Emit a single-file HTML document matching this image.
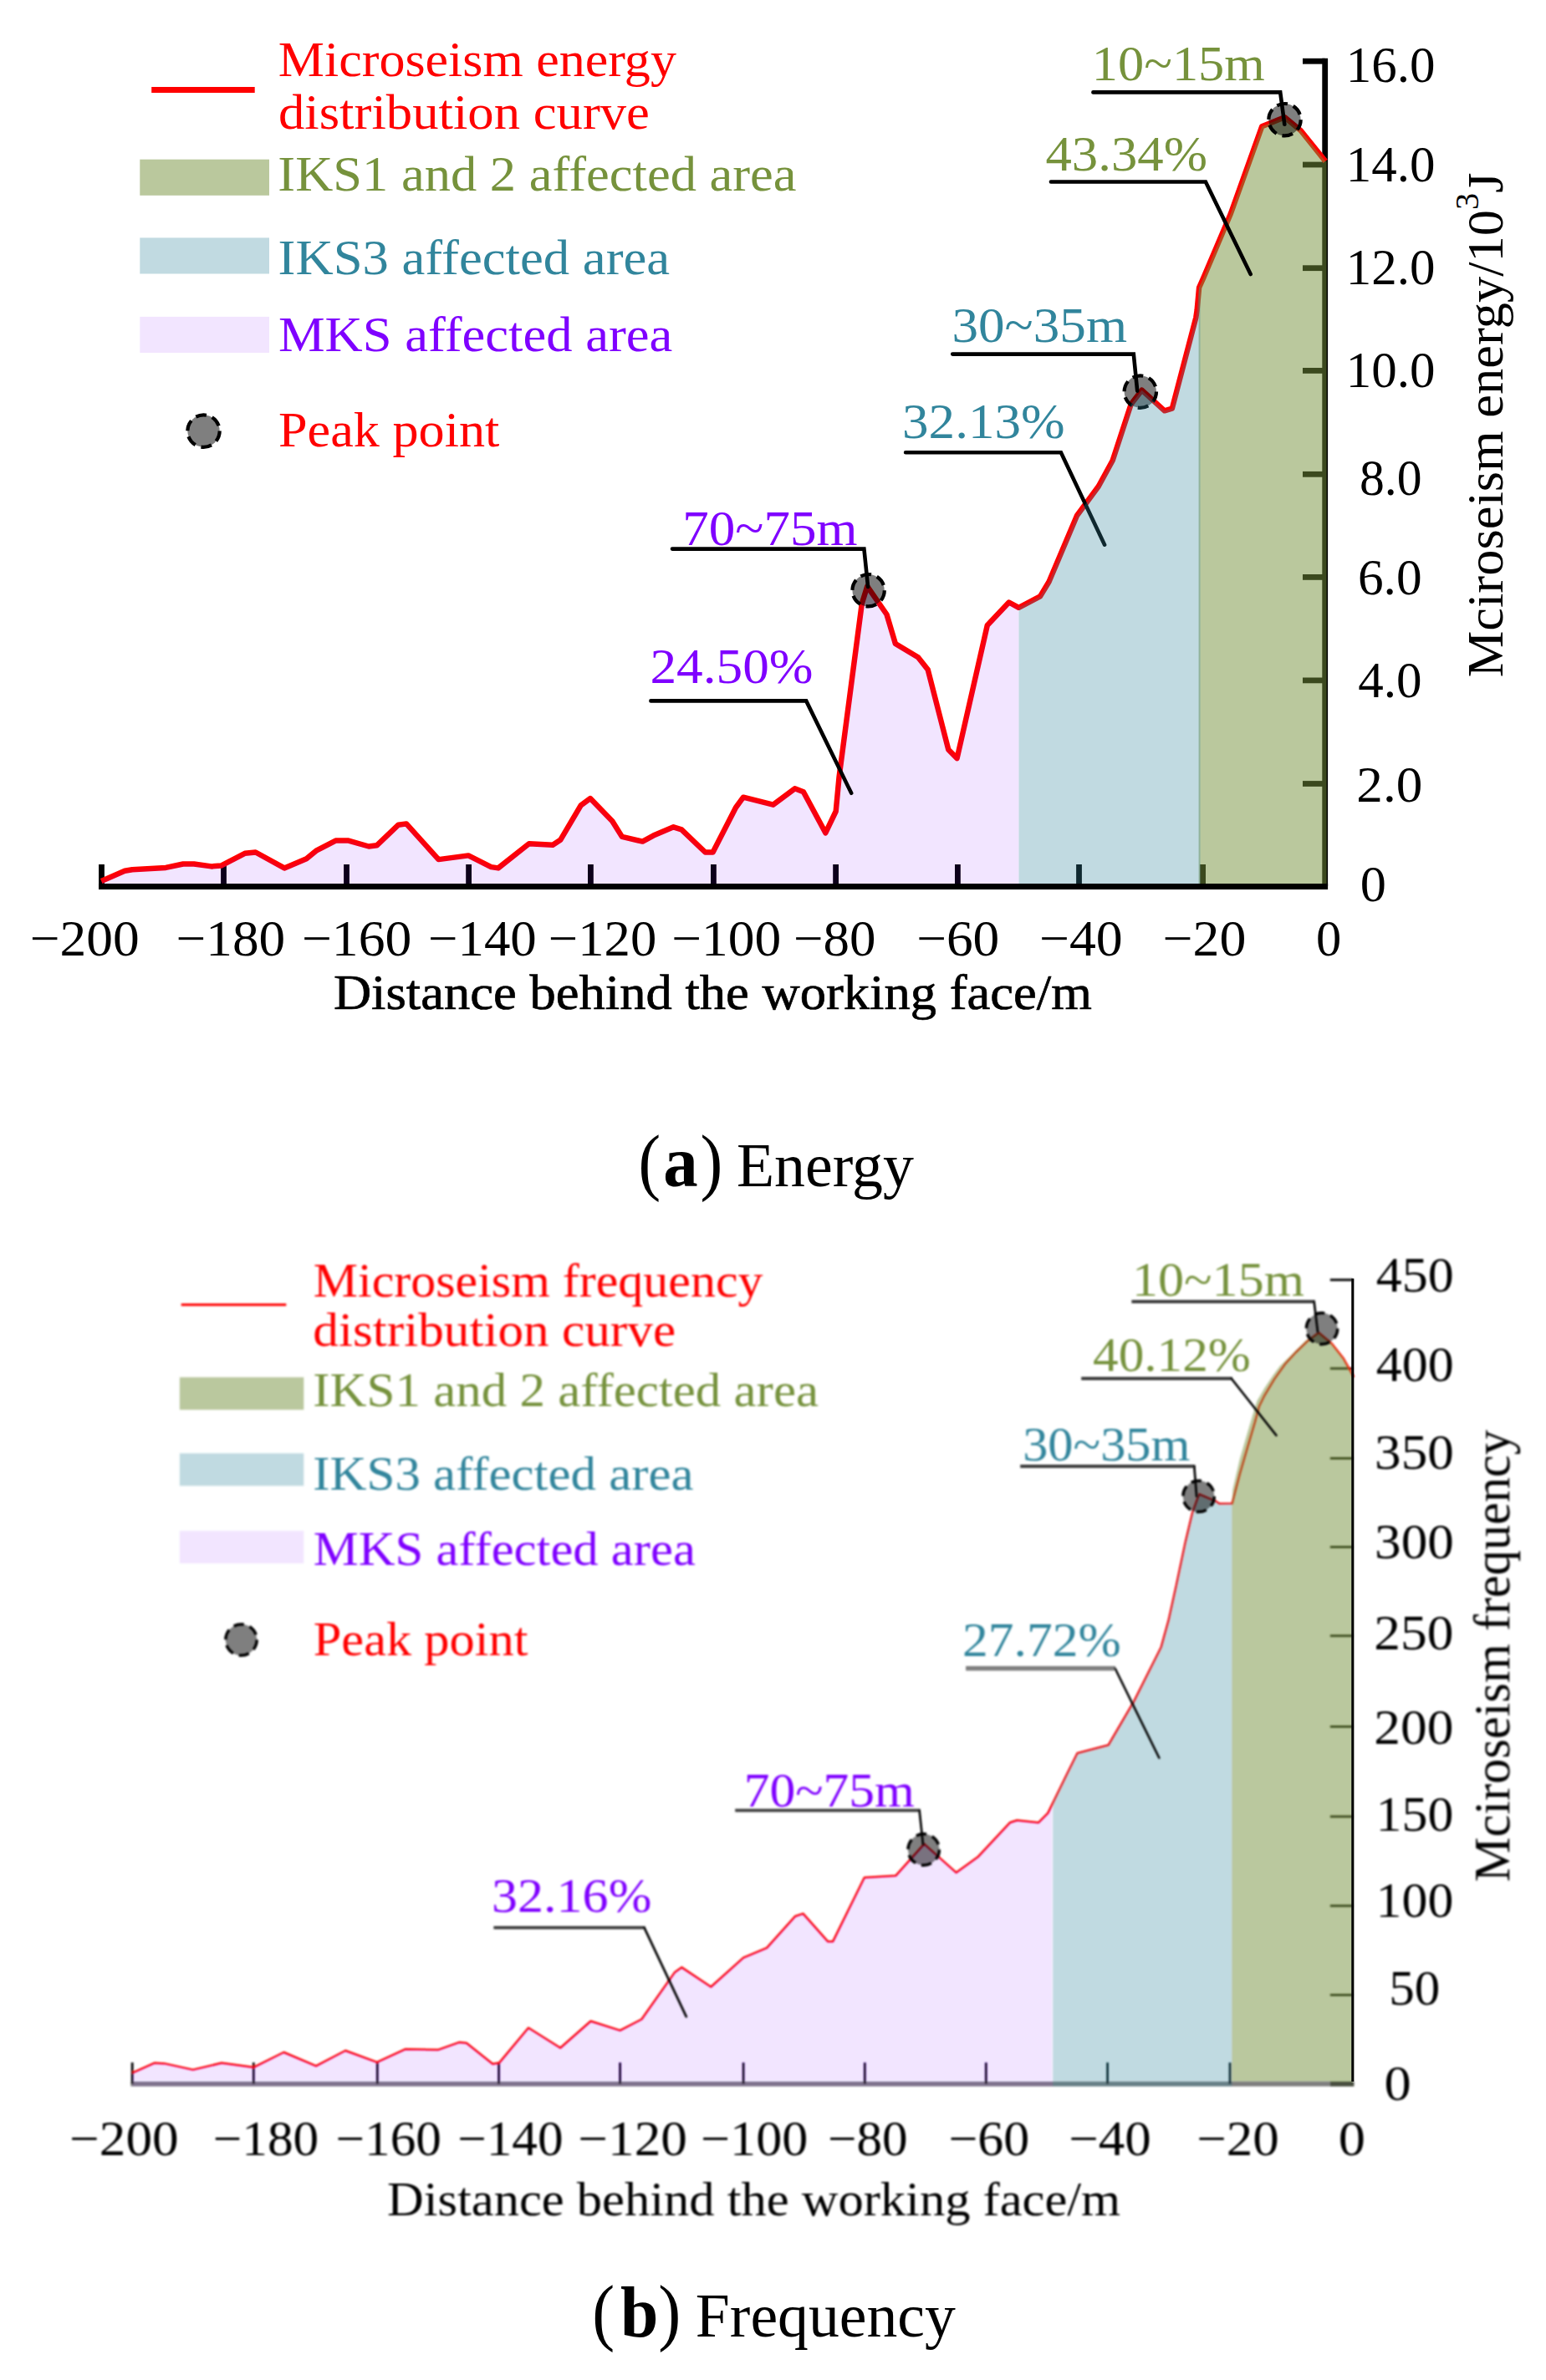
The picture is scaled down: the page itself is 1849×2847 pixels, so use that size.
<!DOCTYPE html>
<html lang="en"><head><meta charset="utf-8"><title>Microseism energy and frequency distribution</title>
<style>
html,body{margin:0;padding:0;background:#fff;}
body{width:1849px;height:2847px;overflow:hidden;}
svg{display:block;}
svg text{font-family:"Liberation Serif",serif;white-space:pre;}
</style></head><body>
<svg width="1849" height="2847" viewBox="0 0 1849 2847">
<defs><filter id="blurB" x="0" y="0" width="1849" height="2847" filterUnits="userSpaceOnUse"><feGaussianBlur stdDeviation="1.0"/></filter><filter id="blurS" x="0" y="0" width="1849" height="2847" filterUnits="userSpaceOnUse"><feGaussianBlur stdDeviation="0.8"/></filter></defs>
<rect width="1849" height="2847" fill="#fff"/>
<g id="chartA">
<g stroke="#000" stroke-width="6.8" fill="none" stroke-linecap="butt">
<path d="M118,1060.5 H1588.1"/>
<path d="M1584.7,1060 V69.8"/>
</g>
<g stroke="#000" stroke-width="6.8" fill="none">
<path d="M121.5,1034 V1060"/>
<path d="M267.5,1034 V1060"/>
<path d="M414.5,1034 V1060"/>
<path d="M560.6,1034 V1060"/>
<path d="M706.4,1034 V1060"/>
<path d="M853.4,1034 V1060"/>
<path d="M999.6,1034 V1060"/>
<path d="M1145.4,1034 V1060"/>
<path d="M1290.5,1034 V1060"/>
<path d="M1438.6,1034 V1060"/>
<path d="M1558,73.2 H1584.7"/>
<path d="M1558,197 H1584.7"/>
<path d="M1558,320.7 H1584.7"/>
<path d="M1558,443.4 H1584.7"/>
<path d="M1558,567.3 H1584.7"/>
<path d="M1558,690.4 H1584.7"/>
<path d="M1558,813.9 H1584.7"/>
<path d="M1558,937.5 H1584.7"/>
</g>
<polyline points="121.2,1053.9 149.2,1041.8 158.2,1040.2 198.3,1037.9 219.0,1033.5 232.0,1033.5 252.7,1036.4 264.3,1035.6 292.8,1020.8 305.7,1019.5 340.1,1038.4 366.5,1027.3 378.1,1017.7 401.4,1005.6 416.9,1005.6 441.0,1012.5 450.6,1011.3 476.5,986.7 486.0,985.4 524.5,1028.1 560.2,1023.4 587.4,1037.1 595.9,1038.4 632.7,1009.2 661.1,1010.7 670.2,1004.8 694.7,963.4 705.9,955.1 732.3,982.3 743.9,1000.9 768.5,1006.6 781.4,999.6 805.5,989.3 815.1,992.4 843.5,1019.5 852.6,1019.5 880.0,966.0 889.0,953.7 924.7,962.7 950.6,943.3 960.9,947.2 987.3,996.3 999.7,970.5 1003.6,929.1 1030.8,722.1 1037.2,701.4 1060.5,735.0 1070.9,770.0 1098.0,786.3 1109.7,801.0 1134.3,896.7 1144.6,907.1 1180.8,748.0 1206.7,720.5 1218.4,726.8 1244.0,713.4 1254.5,696.0 1288.0,616.7 1313.8,581.8 1330.7,550.8 1352.7,483.5 1365.6,466.7 1392.8,491.3 1401.8,488.7 1430.3,380.0 1431.6,371.2 1434.1,344.0 1439.3,332.4 1471.7,256.0 1509.2,151.3 1536.5,140.2 1555.8,156.3 1585.2,192.9" fill="none" stroke="#ff0000" stroke-width="6.5" stroke-linejoin="round" stroke-linecap="butt"/>
<path d="M181.2,107.4 H304.7" stroke="#ff0000" stroke-width="7"/>
<polygon points="121.5,1057.0 121.5,1053.8 149.2,1041.8 158.2,1040.2 198.3,1037.9 219.0,1033.5 232.0,1033.5 252.7,1036.4 264.3,1035.6 292.8,1020.8 305.7,1019.5 340.1,1038.4 366.5,1027.3 378.1,1017.7 401.4,1005.6 416.9,1005.6 441.0,1012.5 450.6,1011.3 476.5,986.7 486.0,985.4 524.5,1028.1 560.2,1023.4 587.4,1037.1 595.9,1038.4 632.7,1009.2 661.1,1010.7 670.2,1004.8 694.7,963.4 705.9,955.1 732.3,982.3 743.9,1000.9 768.5,1006.6 781.4,999.6 805.5,989.3 815.1,992.4 843.5,1019.5 852.6,1019.5 880.0,966.0 889.0,953.7 924.7,962.7 950.6,943.3 960.9,947.2 987.3,996.3 999.7,970.5 1003.6,929.1 1030.8,722.1 1037.2,701.4 1060.5,735.0 1070.9,770.0 1098.0,786.3 1109.7,801.0 1134.3,896.7 1144.6,907.1 1180.8,748.0 1206.7,720.5 1218.4,726.8 1218.5,726.7 1218.5,1057.0" fill="rgba(127,0,255,0.1)"/>
<polygon points="1433.6,1057.0 1433.6,349.4 1434.1,344.0 1439.3,332.4 1471.7,256.0 1509.2,151.3 1536.5,140.2 1555.8,156.3 1585.2,192.9 1586.6,192.9 1586.6,1057.0" fill="rgba(118,146,60,0.5)"/>
<circle cx="1363.8" cy="468.6" r="19.2" fill="rgba(0,0,0,0.5)" stroke="#000" stroke-width="4.2" stroke-dasharray="13 7.1"/>
<polyline points="1139.2,423.6 1355.8,423.6 1360.2,467.6" fill="none" stroke="#000" stroke-width="4.6" stroke-linejoin="miter" stroke-linecap="round"/>
<polyline points="1083.1,541.2 1268.9,541.2 1321.1,651.7" fill="none" stroke="#000" stroke-width="4.6" stroke-linejoin="miter" stroke-linecap="round"/>
<polygon points="1218.5,1057.0 1218.5,726.7 1244.0,713.4 1254.5,696.0 1288.0,616.7 1313.8,581.8 1330.7,550.8 1352.7,483.5 1365.6,466.7 1392.8,491.3 1401.8,488.7 1430.3,380.0 1431.6,371.2 1434.1,344.0 1435.6,340.7 1435.6,1057.0" fill="rgba(49,133,156,0.3)"/>
<circle cx="1038.6" cy="706.2" r="19.2" fill="rgba(0,0,0,0.5)" stroke="#000" stroke-width="4.2" stroke-dasharray="13 7.1"/>
<circle cx="1536.5" cy="143.2" r="19.2" fill="rgba(0,0,0,0.5)" stroke="#000" stroke-width="4.2" stroke-dasharray="13 7.1"/>
<circle cx="243.5" cy="515.6" r="19.2" fill="rgba(0,0,0,0.5)" stroke="#000" stroke-width="4.2" stroke-dasharray="13 7.1"/>
<polyline points="804.0,656.6 1033.4,656.6 1038.1,702.0" fill="none" stroke="#000" stroke-width="4.6" stroke-linejoin="miter" stroke-linecap="round"/>
<polyline points="778.4,838.4 964.2,838.4 1018.2,948.8" fill="none" stroke="#000" stroke-width="4.6" stroke-linejoin="miter" stroke-linecap="round"/>
<polyline points="1307.4,110.4 1531.2,110.4 1536.3,148.7" fill="none" stroke="#000" stroke-width="4.6" stroke-linejoin="miter" stroke-linecap="round"/>
<polyline points="1256.9,217.5 1441.9,217.5 1495.7,328.0" fill="none" stroke="#000" stroke-width="4.6" stroke-linejoin="miter" stroke-linecap="round"/>
<rect x="167.3" y="190.7" width="154.7" height="43.1" fill="rgba(118,146,60,0.5)"/>
<rect x="167.3" y="284.4" width="154.7" height="43.1" fill="rgba(49,133,156,0.3)"/>
<rect x="167.3" y="378.9" width="154.7" height="43.1" fill="rgba(127,0,255,0.1)"/>
<text transform="translate(332.79,91.00) scale(1.0518,1)" font-size="59" fill="#ff0000" >Microseism energy</text>
<text transform="translate(332.91,154.40) scale(1.0628,1)" font-size="59" fill="#ff0000" >distribution curve</text>
<text transform="translate(332.31,227.90) scale(1.0600,1)" font-size="59" fill="#76923c" >IKS1 and 2 affected area</text>
<text transform="translate(332.51,328.20) scale(1.0627,1)" font-size="59" fill="#31859c" >IKS3 affected area</text>
<text transform="translate(332.98,420.20) scale(1.0607,1)" font-size="59" fill="#7f00ff" >MKS affected area</text>
<text transform="translate(332.99,534.40) scale(1.0549,1)" font-size="59" fill="#ff0000" >Peak point</text>
<text transform="translate(1305.84,95.60) scale(1.0394,1)" font-size="60" fill="#76923c" >10~15m</text>
<text transform="translate(1250.44,204.30) scale(1.0462,1)" font-size="60" fill="#76923c" >43.34%</text>
<text transform="translate(1138.40,409.30) scale(1.0527,1)" font-size="60" fill="#31859c" >30~35m</text>
<text transform="translate(1079.00,524.30) scale(1.0525,1)" font-size="60" fill="#31859c" >32.13%</text>
<text transform="translate(816.20,652.40) scale(1.0517,1)" font-size="60" fill="#7f00ff" >70~75m</text>
<text transform="translate(777.41,816.80) scale(1.0551,1)" font-size="60" fill="#7f00ff" >24.50%</text>
<text transform="translate(1609.76,97.60) scale(1.0063,1)" font-size="60.6" fill="#000" >16.0</text>
<text transform="translate(1609.76,216.60) scale(1.0063,1)" font-size="60.6" fill="#000" >14.0</text>
<text transform="translate(1609.76,340.00) scale(1.0063,1)" font-size="60.6" fill="#000" >12.0</text>
<text transform="translate(1609.76,463.40) scale(1.0063,1)" font-size="60.6" fill="#000" >10.0</text>
<text transform="translate(1625.96,591.80) scale(0.9845,1)" font-size="60.6" fill="#000" >8.0</text>
<text transform="translate(1623.89,711.40) scale(1.0127,1)" font-size="60.6" fill="#000" >6.0</text>
<text transform="translate(1624.28,833.90) scale(1.0074,1)" font-size="60.6" fill="#000" >4.0</text>
<text transform="translate(1622.32,958.90) scale(1.0423,1)" font-size="60.6" fill="#000" >2.0</text>
<text transform="translate(1626.66,1077.50) scale(1.0289,1)" font-size="60.6" fill="#000" >0</text>
<text transform="translate(35.73,1143.20) scale(1.0473,1)" font-size="60.6" fill="#000" >−200</text>
<text transform="translate(210.53,1143.20) scale(1.0448,1)" font-size="60.6" fill="#000" >−180</text>
<text transform="translate(360.92,1143.20) scale(1.0506,1)" font-size="60.6" fill="#000" >−160</text>
<text transform="translate(512.06,1143.20) scale(1.0372,1)" font-size="60.6" fill="#000" >−140</text>
<text transform="translate(655.86,1143.20) scale(1.0347,1)" font-size="60.6" fill="#000" >−120</text>
<text transform="translate(803.33,1143.20) scale(1.0473,1)" font-size="60.6" fill="#000" >−100</text>
<text transform="translate(948.95,1143.20) scale(1.0387,1)" font-size="60.6" fill="#000" >−80</text>
<text transform="translate(1096.13,1143.20) scale(1.0465,1)" font-size="60.6" fill="#000" >−60</text>
<text transform="translate(1243.01,1143.20) scale(1.0521,1)" font-size="60.6" fill="#000" >−40</text>
<text transform="translate(1390.51,1143.20) scale(1.0532,1)" font-size="60.6" fill="#000" >−20</text>
<text transform="translate(1573.93,1143.20) scale(0.9979,1)" font-size="60.6" fill="#000" >0</text>
<text transform="translate(398.88,1207.00) scale(1.0431,1)" font-size="60" fill="#000" stroke="#000" stroke-width="0.7">Distance behind the working face/m</text>
<text transform="translate(1797.2,810.3) rotate(-90) scale(1.008,1)" font-size="62" fill="#000">Mciroseism energy/10<tspan dy="-29" font-size="40">3</tspan><tspan dy="29">J</tspan></text>
<text transform="translate(763.50,1418.80) scale(0.9091,1)" font-size="88" fill="#000" >(</text>
<text transform="translate(793.31,1418.80) scale(0.9636,1)" font-size="86" fill="#000" font-weight="bold" >a</text>
<text transform="translate(837.39,1418.80) scale(0.9135,1)" font-size="88" fill="#000" >)</text>
<text transform="translate(880.97,1418.80) scale(0.9850,1)" font-size="75" fill="#000" >Energy</text>
</g>
<g id="chartB"><g filter="url(#blurS)">
<g stroke="#000" fill="none">
<path d="M156.4,2492.8 H1619.3" stroke="#7f7f7f" stroke-width="5.8"/>
<path d="M1590.9,2492.8 H1619.3" stroke="#4a4f40" stroke-width="5.8"/>
</g>
<g stroke="#000" stroke-width="2.8" fill="none">
<path d="M158.2,2467.2 V2492.8"/>
<path d="M303.3,2467.2 V2492.8"/>
<path d="M451.3,2467.2 V2492.8"/>
<path d="M596.6,2467.2 V2492.8"/>
<path d="M741.6,2467.2 V2492.8"/>
<path d="M889.1,2467.2 V2492.8"/>
<path d="M1034.3,2467.2 V2492.8"/>
<path d="M1179.3,2467.2 V2492.8"/>
<path d="M1324.6,2467.2 V2492.8"/>
<path d="M1471,2467.2 V2492.8"/>
<path d="M1590.8,1531 H1617.8"/>
<path d="M1590.8,1637 H1617.8"/>
<path d="M1590.8,1744.5 H1617.8"/>
<path d="M1590.8,1850.6 H1617.8"/>
<path d="M1590.8,1956.8 H1617.8"/>
<path d="M1590.8,2065.4 H1617.8"/>
<path d="M1590.8,2173 H1617.8"/>
<path d="M1590.8,2279.8 H1617.8"/>
<path d="M1590.8,2386.4 H1617.8"/>
</g>
<polyline points="158.4,2479.7 184.6,2467.8 196.5,2468.4 230.8,2475.9 265.0,2467.8 303.6,2472.9 339.4,2455.0 378.0,2471.4 413.1,2453.0 450.9,2466.9 485.1,2451.2 523.8,2452.1 549.1,2443.1 558.0,2444.0 589.3,2469.0 597.3,2467.4 632.0,2425.7 670.2,2449.7 706.5,2417.7 741.6,2428.9 767.4,2415.5 806.8,2359.6 815.2,2353.4 850.3,2376.7 889.1,2341.9 917.1,2330.1 951.2,2292.2 960.5,2289.1 990.0,2322.4 996.2,2322.4 1033.8,2246.0 1071.2,2243.8 1105.3,2205.9 1143.7,2240.1 1169.3,2221.6 1207.8,2180.3 1216.3,2177.5 1241.9,2180.3 1253.3,2168.9 1277.2,2120.0 1288.5,2097.2 1325.7,2087.5 1356.4,2034.9 1388.8,1970.2 1397.7,1937.9 1406.6,1897.5 1417.9,1844.1 1426.0,1810.1 1434.1,1787.5 1455.1,1796.4 1458.3,1798.8 1473.6,1798.6 1482.7,1763.7 1491.7,1732.7 1500.8,1701.6 1506.0,1682.2 1512.4,1669.3 1524.1,1649.9 1537.0,1631.7 1550.0,1617.5 1564.2,1603.9 1577.1,1594.2 1592.7,1607.2 1606.9,1625.3 1619.2,1647.3" fill="none" stroke="#ff0000" stroke-width="2.5" stroke-linejoin="round"/>
<path d="M216.7,1560.8 H342.3" stroke="#ff0000" stroke-width="3"/>
<polygon points="158.2,2495.7 158.2,2479.7 158.4,2479.7 184.6,2467.8 196.5,2468.4 230.8,2475.9 265.0,2467.8 303.6,2472.9 339.4,2455.0 378.0,2471.4 413.1,2453.0 450.9,2466.9 485.1,2451.2 523.8,2452.1 549.1,2443.1 558.0,2444.0 589.3,2469.0 597.3,2467.4 632.0,2425.7 670.2,2449.7 706.5,2417.7 741.6,2428.9 767.4,2415.5 806.8,2359.6 815.2,2353.4 850.3,2376.7 889.1,2341.9 917.1,2330.1 951.2,2292.2 960.5,2289.1 990.0,2322.4 996.2,2322.4 1033.8,2246.0 1071.2,2243.8 1105.3,2205.9 1143.7,2240.1 1169.3,2221.6 1207.8,2180.3 1216.3,2177.5 1241.9,2180.3 1253.3,2168.9 1259.2,2156.8 1259.2,2495.7" fill="rgba(127,0,255,0.1)"/>
<polygon points="1259.2,2495.7 1259.2,2156.8 1277.2,2120.0 1288.5,2097.2 1325.7,2087.5 1356.4,2034.9 1388.8,1970.2 1397.7,1937.9 1406.6,1897.5 1417.9,1844.1 1426.0,1810.1 1434.1,1787.5 1455.1,1796.4 1458.3,1798.8 1473.6,1798.6 1473.6,2495.7" fill="rgba(49,133,156,0.3)"/>
<polygon points="1473.4,2489.9 1473.4,1798.6 1474.3,1781.8 1482.7,1745.6 1491.7,1714.5 1498.2,1692.6 1503.4,1675.7 1512.4,1660.2 1522.8,1644.7 1530.6,1634.3 1543.5,1621.4 1561.6,1603.5 1577.1,1594.2 1592.7,1607.2 1606.9,1625.3 1617.6,1644.5 1617.6,2489.9" fill="rgba(118,146,60,0.5)"/>
</g>
<path d="M1617.8,2490 V1529.4" stroke="#000" stroke-width="3.1" fill="none"/>
<g filter="url(#blurS)">
<circle cx="1104.7" cy="2212.5" r="18.7" fill="rgba(0,0,0,0.5)" stroke="#000" stroke-width="3.5" stroke-dasharray="12.5 7.1"/>
<circle cx="1433.6" cy="1789.9" r="18.7" fill="rgba(0,0,0,0.5)" stroke="#000" stroke-width="3.5" stroke-dasharray="12.5 7.1"/>
<circle cx="1581" cy="1589.3" r="18.7" fill="rgba(0,0,0,0.5)" stroke="#000" stroke-width="3.5" stroke-dasharray="12.5 7.1"/>
<circle cx="288.5" cy="1961.6" r="18.7" fill="rgba(0,0,0,0.5)" stroke="#000" stroke-width="3.5" stroke-dasharray="12.5 7.1"/>
<path d="M879.2,2165.6 H1100.6" stroke="#3c3c3c" stroke-width="3.8" fill="none"/>
<path d="M1099.6,2165.6 L1103.9,2205.9" stroke="#000" stroke-width="2.7" stroke-linecap="round" fill="none"/>
<path d="M590.4,2305.9 H771.5" stroke="#3c3c3c" stroke-width="3.8" fill="none"/>
<path d="M770.5,2305.9 L820.8,2412.4" stroke="#000" stroke-width="2.7" stroke-linecap="round" fill="none"/>
<path d="M1220.2,1754 H1429.3" stroke="#3c3c3c" stroke-width="3.8" fill="none"/>
<path d="M1428.3,1754 L1431.1,1789.8" stroke="#000" stroke-width="2.7" stroke-linecap="round" fill="none"/>
<path d="M1155.1,1995.8 H1334" stroke="#7f7f7f" stroke-width="5.4"/>
<polyline points="1333.6,1995.8 1386.3,2102.8" fill="none" stroke="#000" stroke-width="2.6" stroke-linejoin="miter" stroke-linecap="round"/>
<path d="M1353.4,1557 H1572.6" stroke="#3c3c3c" stroke-width="3.8" fill="none"/>
<path d="M1571.6,1557 L1576,1593.1" stroke="#000" stroke-width="2.7" stroke-linecap="round" fill="none"/>
<path d="M1293.2,1649 H1473.7" stroke="#3c3c3c" stroke-width="3.8" fill="none"/>
<path d="M1472.7,1649 L1526.4,1717" stroke="#000" stroke-width="2.7" stroke-linecap="round" fill="none"/>
<rect x="214.9" y="1647.5" width="148.4" height="38.9" fill="rgba(118,146,60,0.5)"/>
<rect x="214.9" y="1738.5" width="148.4" height="38.9" fill="rgba(49,133,156,0.3)"/>
<rect x="214.9" y="1831.2" width="148.4" height="38.9" fill="rgba(127,0,255,0.1)"/>
</g><g filter="url(#blurB)">
<text transform="translate(374.75,1550.60) scale(1.0429,1)" font-size="57.5" fill="#ff0000" >Microseism frequency</text>
<text transform="translate(374.26,1610.40) scale(1.0654,1)" font-size="57.5" fill="#ff0000" >distribution curve</text>
<text transform="translate(374.27,1682.20) scale(1.0603,1)" font-size="57.5" fill="#76923c" >IKS1 and 2 affected area</text>
<text transform="translate(374.27,1782.10) scale(1.0590,1)" font-size="57.5" fill="#31859c" >IKS3 affected area</text>
<text transform="translate(374.73,1871.90) scale(1.0554,1)" font-size="57.5" fill="#7f00ff" >MKS affected area</text>
<text transform="translate(374.74,1979.60) scale(1.0511,1)" font-size="57.5" fill="#ff0000" >Peak point</text>
<text transform="translate(1354.07,1549.60) scale(1.0693,1)" font-size="58" fill="#76923c" >10~15m</text>
<text transform="translate(1307.07,1640.30) scale(1.0561,1)" font-size="58" fill="#76923c" >40.12%</text>
<text transform="translate(1223.13,1746.90) scale(1.0408,1)" font-size="58" fill="#31859c" >30~35m</text>
<text transform="translate(1151.09,1981.10) scale(1.0606,1)" font-size="58" fill="#31859c" >27.72%</text>
<text transform="translate(889.80,2160.90) scale(1.0608,1)" font-size="58" fill="#7f00ff" >70~75m</text>
<text transform="translate(588.05,2286.70) scale(1.0698,1)" font-size="58" fill="#7f00ff" >32.16%</text>
<text transform="translate(1645.86,1545.40) scale(1.0416,1)" font-size="59.5" fill="#000" >450</text>
<text transform="translate(1645.86,1651.60) scale(1.0416,1)" font-size="59.5" fill="#000" >400</text>
<text transform="translate(1644.10,1756.60) scale(1.0619,1)" font-size="59.5" fill="#000" >350</text>
<text transform="translate(1644.10,1863.60) scale(1.0619,1)" font-size="59.5" fill="#000" >300</text>
<text transform="translate(1643.20,1972.60) scale(1.0664,1)" font-size="59.5" fill="#000" >250</text>
<text transform="translate(1643.20,2086.40) scale(1.0664,1)" font-size="59.5" fill="#000" >200</text>
<text transform="translate(1645.59,2190.00) scale(1.0390,1)" font-size="59.5" fill="#000" >150</text>
<text transform="translate(1645.59,2292.70) scale(1.0390,1)" font-size="59.5" fill="#000" >100</text>
<text transform="translate(1661.19,2397.70) scale(1.0251,1)" font-size="59.5" fill="#000" >50</text>
<text transform="translate(1655.58,2512.00) scale(1.0835,1)" font-size="59.5" fill="#000" >0</text>
<text transform="translate(83.03,2578.00) scale(1.0641,1)" font-size="59.5" fill="#000" >−200</text>
<text transform="translate(254.84,2578.00) scale(1.0292,1)" font-size="59.5" fill="#000" >−180</text>
<text transform="translate(401.54,2578.00) scale(1.0292,1)" font-size="59.5" fill="#000" >−160</text>
<text transform="translate(547.14,2578.00) scale(1.0292,1)" font-size="59.5" fill="#000" >−140</text>
<text transform="translate(691.33,2578.00) scale(1.0641,1)" font-size="59.5" fill="#000" >−120</text>
<text transform="translate(838.10,2578.00) scale(1.0437,1)" font-size="59.5" fill="#000" >−100</text>
<text transform="translate(990.04,2578.00) scale(1.0272,1)" font-size="59.5" fill="#000" >−80</text>
<text transform="translate(1134.41,2578.00) scale(1.0397,1)" font-size="59.5" fill="#000" >−60</text>
<text transform="translate(1278.15,2578.00) scale(1.0602,1)" font-size="59.5" fill="#000" >−40</text>
<text transform="translate(1431.25,2578.00) scale(1.0602,1)" font-size="59.5" fill="#000" >−20</text>
<text transform="translate(1600.78,2578.00) scale(1.0835,1)" font-size="59.5" fill="#000" >0</text>
<text transform="translate(462.94,2650.00) scale(1.0437,1)" font-size="58" fill="#000" >Distance behind the working face/m</text>
<text transform="translate(1805.20,2251.26) rotate(-90) scale(0.9889,1)" font-size="61" fill="#000" >Mciroseism frequency</text>
</g></g>
<text transform="translate(708.27,2794.60) scale(0.9179,1)" font-size="88" fill="#000" >(</text>
<text transform="translate(741.98,2794.60) scale(0.9487,1)" font-size="86" fill="#000" font-weight="bold" >b</text>
<text transform="translate(787.36,2794.60) scale(0.9223,1)" font-size="88" fill="#000" >)</text>
<text transform="translate(831.87,2794.60) scale(0.9827,1)" font-size="75" fill="#000" >Frequency</text>
</svg>
</body></html>
